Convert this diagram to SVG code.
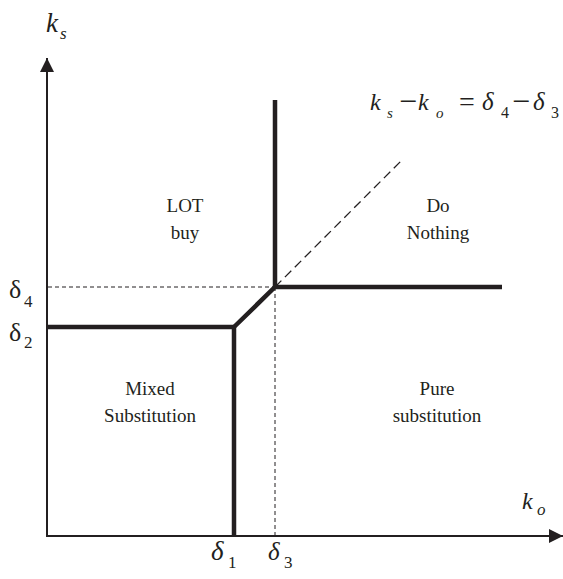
<svg xmlns="http://www.w3.org/2000/svg" width="563" height="579" viewBox="0 0 563 579">
<style>
.lbl{font-family:"Liberation Serif",serif;font-size:19px;fill:#231f20;text-anchor:middle}
.m{font-family:"Liberation Serif",serif;fill:#231f20}
.i{font-style:italic}
.axis{stroke:#231f20;stroke-width:2;fill:none}
.thick{stroke:#231f20;stroke-width:4.5;fill:none;stroke-linejoin:miter}
.dash{stroke:#231f20;stroke-width:1;fill:none;stroke-dasharray:4,3}
.dash2{stroke:#231f20;stroke-width:1.3;fill:none;stroke-dasharray:9,5}
</style>
<defs>
<marker id="ah" viewBox="0 0 14 14" refX="14" refY="7" markerWidth="14" markerHeight="14" orient="auto" markerUnits="userSpaceOnUse">
<path d="M0,0 L14,7 L0,14 z" fill="#231f20"/>
</marker>
</defs>
<g id="connectors">
<line class="axis" x1="47" y1="537" x2="47" y2="58" marker-end="url(#ah)"/>
<line class="axis" x1="46" y1="536" x2="563" y2="536" marker-end="url(#ah)"/>
<line class="dash" x1="48" y1="287" x2="275" y2="287"/>
<line class="dash" x1="275" y1="287" x2="275" y2="535"/>
<line class="dash2" x1="275" y1="287" x2="401" y2="161"/>
<polyline class="thick" points="48,327 234,327 234,536"/>
<polyline class="thick" points="234,327 275,287 502,287"/>
<line class="thick" x1="275" y1="100" x2="275" y2="287"/>
</g>
<g id="axis-labels">
<text class="m i" x="46" y="32" font-size="27">k</text>
<text class="m i" x="60" y="39" font-size="17">s</text>
<text class="m i" x="522" y="509" font-size="24">k</text>
<text class="m i" x="537" y="515" font-size="17">o</text>
<text class="m" x="9" y="298" font-size="26">δ</text>
<text class="m" x="24" y="307" font-size="17">4</text>
<text class="m" x="9" y="341" font-size="26">δ</text>
<text class="m" x="24" y="348" font-size="17">2</text>
<text class="m i" x="211" y="560" font-size="27">δ</text>
<text class="m" x="228" y="568" font-size="17">1</text>
<text class="m i" x="268" y="560" font-size="25">δ</text>
<text class="m" x="284" y="568" font-size="17">3</text>
</g>
<g id="equation" class="m">
<text class="i" x="370" y="110" font-size="24">k</text>
<text class="i" x="387" y="118" font-size="15">s</text>
<text x="399" y="112" font-size="32">−</text>
<text class="i" x="418" y="110" font-size="24">k</text>
<text class="i" x="436" y="118" font-size="15">o</text>
<text x="459" y="111" font-size="28">=</text>
<text class="i" x="482" y="110" font-size="25">δ</text>
<text x="501" y="118" font-size="16">4</text>
<text x="512" y="112" font-size="32">−</text>
<text class="i" x="533" y="110" font-size="25">δ</text>
<text x="551" y="118" font-size="16">3</text>
</g>
<g id="lot-buy">
<text class="lbl" x="185" y="212">LOT</text>
<text class="lbl" x="185" y="239">buy</text>
</g>
<g id="do-nothing">
<text class="lbl" x="438" y="212">Do</text>
<text class="lbl" x="438" y="239">Nothing</text>
</g>
<g id="mixed-substitution">
<text class="lbl" x="150" y="395">Mixed</text>
<text class="lbl" x="150" y="422">Substitution</text>
</g>
<g id="pure-substitution">
<text class="lbl" x="437" y="395">Pure</text>
<text class="lbl" x="437" y="422">substitution</text>
</g>
</svg>
